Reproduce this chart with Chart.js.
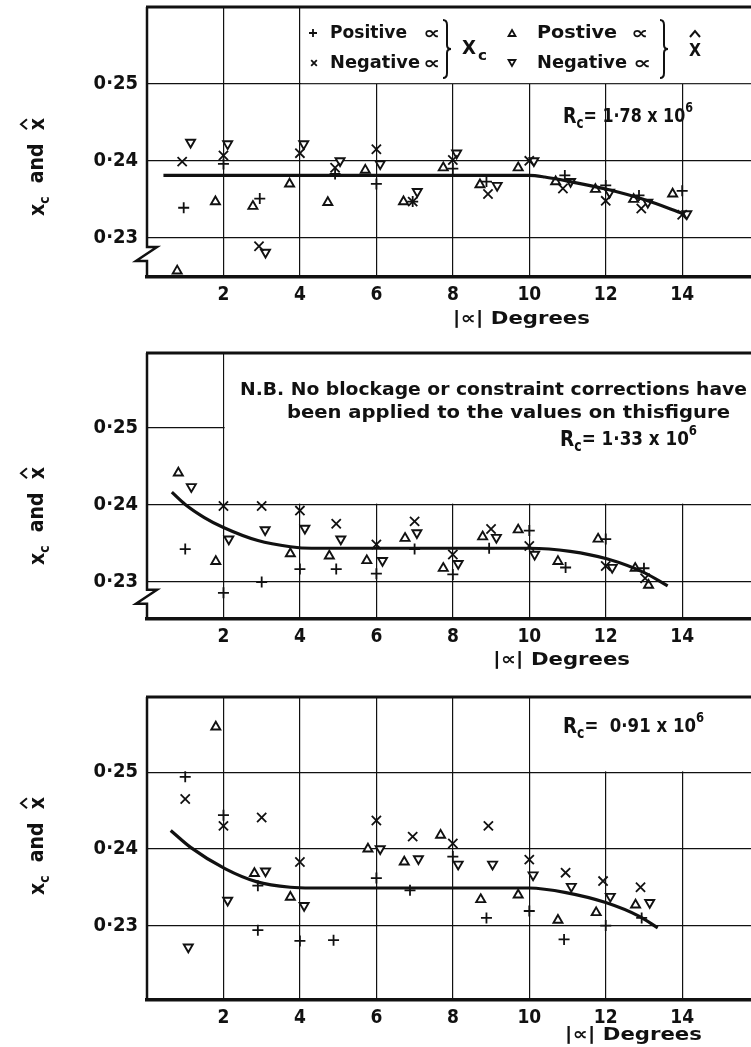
<!DOCTYPE html>
<html>
<head>
<meta charset="utf-8">
<script src="https://cdn.jsdelivr.net/npm/chart.js@4.4.1/dist/chart.umd.min.js"></script>
<style>
  html, body { margin: 0; padding: 0; background: #fff; }
  #wrap { position: relative; width: 751px; height: 1047px; overflow: hidden; background: #fff; }
  canvas { position: absolute; left: 0; }
</style>
</head>
<body>
<div id="wrap">
  <canvas id="c1" width="751" height="335" style="top:0px"></canvas>
  <canvas id="c2" width="751" height="345" style="top:335px"></canvas>
  <canvas id="c3" width="751" height="367" style="top:680px"></canvas>
</div>
<script>
const FONT = "'DejaVu Sans Condensed', 'Liberation Sans Narrow', sans-serif";
const INK = '#111';

const xTicks = [2, 4, 6, 8, 10, 12, 14];
const yTicks = [0.23, 0.24, 0.25];

// Rc = 1.78 x 10^6
const r178Pos = [[0.96,0.2339],[2.0,0.2396],[2.95,0.2351],[4.92,0.2383],[6.0,0.2370],[6.95,0.2347],[8.0,0.2390],[8.88,0.2373],[10.93,0.2381],[12.0,0.2368],[12.87,0.2355],[14.0,0.2361]];
const r178Neg = [[0.92,0.2399],[2.0,0.2407],[2.93,0.2289],[4.0,0.2410],[4.92,0.2391],[6.0,0.2415],[6.95,0.2347],[8.0,0.2401],[8.92,0.2357],[10.0,0.2400],[10.88,0.2364],[12.0,0.2348],[12.93,0.2338],[14.0,0.2330]];
const r178HatPos = [[0.79,0.2257],[1.79,0.2347],[2.77,0.2341],[3.73,0.2370],[4.73,0.2346],[5.71,0.2388],[6.71,0.2347],[7.75,0.2391],[8.71,0.2369],[9.71,0.2391],[10.69,0.2373],[11.73,0.2363],[12.73,0.2350],[13.75,0.2357]];
const r178HatNeg = [[1.14,0.2424],[2.11,0.2422],[3.1,0.2281],[4.1,0.2422],[5.05,0.2400],[6.1,0.2396],[7.07,0.2360],[8.1,0.2410],[9.16,0.2368],[10.12,0.2400],[11.08,0.2373],[12.1,0.2359],[13.1,0.2346],[14.12,0.2331]];
const r178Fair = [[0.43,0.2381],[5,0.2381],[10.0,0.2381],[10.4,0.2379],[11.07,0.2373],[12.03,0.2363],[12.98,0.2350],[14.05,0.2331]];

// Rc = 1.33 x 10^6
const r133Pos = [[1.0,0.2342],[2.0,0.2285],[3.0,0.2299],[4.0,0.2316],[4.95,0.2316],[6.0,0.2310],[7.0,0.2342],[8.0,0.2309],[8.95,0.2343],[10.0,0.2366],[10.95,0.2318],[12.0,0.2355],[13.0,0.2317]];
const r133Neg = [[2.0,0.2398],[3.0,0.2398],[4.0,0.2392],[4.95,0.2375],[6.0,0.2348],[7.0,0.2378],[8.0,0.2335],[9.0,0.2368],[10.0,0.2346],[12.0,0.2320],[13.03,0.2304]];
const r133HatPos = [[0.82,0.2441],[1.8,0.2326],[3.75,0.2336],[4.77,0.2333],[5.75,0.2327],[6.75,0.2356],[7.75,0.2317],[8.78,0.2358],[9.71,0.2367],[10.75,0.2326],[11.8,0.2355],[12.77,0.2317],[13.12,0.2295]];
const r133HatNeg = [[1.16,0.2423],[2.14,0.2355],[3.09,0.2367],[4.13,0.2369],[5.07,0.2355],[6.16,0.2327],[7.06,0.2363],[8.14,0.2323],[9.14,0.2357],[10.14,0.2335],[12.17,0.2318]];
const r133Fair = [[0.65,0.2416],[1.0,0.2400],[1.5,0.2383],[2.0,0.2370],[2.9,0.2353],[3.75,0.2345],[4.3,0.2343],[10.0,0.2343],[11.07,0.2339],[12.05,0.2329],[13.02,0.2311],[13.62,0.2294]];

// Rc = 0.91 x 10^6
const r091Pos = [[1.0,0.2494],[2.0,0.2444],[2.9,0.2352],[2.9,0.2294],[4.0,0.2280],[4.88,0.2281],[6.0,0.2362],[6.88,0.2346],[8.0,0.2390],[8.88,0.2310],[10.0,0.2319],[10.91,0.2282],[12.0,0.2300],[12.94,0.2310]];
const r091Neg = [[1.0,0.2465],[2.0,0.2430],[3.0,0.2441],[4.0,0.2383],[6.0,0.2437],[6.95,0.2416],[8.0,0.2407],[8.93,0.2430],[10.0,0.2386],[10.95,0.2369],[11.93,0.2358],[12.91,0.2350]];
const r091HatPos = [[1.8,0.2559],[2.81,0.2368],[3.75,0.2337],[5.78,0.2400],[6.73,0.2383],[7.68,0.2418],[8.73,0.2334],[9.71,0.2340],[10.75,0.2307],[11.75,0.2317],[12.78,0.2327]];
const r091HatNeg = [[1.08,0.2272],[2.11,0.2333],[3.10,0.2371],[4.11,0.2326],[6.1,0.2400],[7.1,0.2387],[8.14,0.2380],[9.04,0.2380],[10.1,0.2366],[11.1,0.2351],[12.12,0.2338],[13.15,0.2330]];
const r091Fair = [[0.62,0.2424],[1.14,0.2402],[2.05,0.2374],[2.88,0.2357],[3.75,0.2350],[4.3,0.2349],[10.0,0.2349],[10.96,0.2343],[12.0,0.2330],[12.88,0.2312],[13.36,0.2297]];

const toPts = a => a.map(([x, y]) => ({ x, y }));

// text squeezed/stretched horizontally to a given width
function fitText(ctx, str, x, y, w, size, weight) {
  ctx.save();
  ctx.font = `${weight || 'bold'} ${size}px ${FONT}`;
  ctx.textBaseline = 'middle';
  ctx.textAlign = 'left';
  ctx.fillStyle = INK;
  const m = ctx.measureText(str).width;
  ctx.translate(x, y);
  if (w) ctx.scale(w / m, 1);
  ctx.fillText(str, 0, 0);
  ctx.restore();
}

// runs of text with their own size and vertical shift
function richText(ctx, parts, x, y, w) {
  ctx.save();
  ctx.textBaseline = 'middle';
  ctx.fillStyle = INK;
  let total = 0;
  parts.forEach(p => { ctx.font = `bold ${p.s}px ${FONT}`; p.w = ctx.measureText(p.t).width; total += p.w; });
  ctx.translate(x, y);
  if (w) ctx.scale(w / total, 1);
  let cx = 0;
  parts.forEach(p => { ctx.font = `bold ${p.s}px ${FONT}`; ctx.fillText(p.t, cx, p.dy || 0); cx += p.w; });
  ctx.restore();
}

function rcLabel(ctx, mant, x, y, w) {
  richText(ctx, [
    { t: 'R', s: 22 }, { t: 'c', s: 15, dy: 7 }, { t: '= ' + mant + ' x 10', s: 20 }, { t: '6', s: 14, dy: -9 }
  ], x, y, w);
}

function brace(ctx, x, y1, y2) {
  const m = (y1 + y2) / 2;
  ctx.save();
  ctx.strokeStyle = INK; ctx.lineWidth = 2;
  ctx.beginPath();
  ctx.moveTo(x - 4, y1);
  ctx.quadraticCurveTo(x, y1, x, y1 + 5);
  ctx.lineTo(x, m - 4);
  ctx.quadraticCurveTo(x, m, x + 4, m);
  ctx.quadraticCurveTo(x, m, x, m + 4);
  ctx.lineTo(x, y2 - 5);
  ctx.quadraticCurveTo(x, y2, x - 4, y2);
  ctx.stroke();
  ctx.restore();
}

function hat(ctx, cx, cy, w) {
  ctx.save();
  ctx.strokeStyle = INK; ctx.lineWidth = 2;
  ctx.beginPath();
  ctx.moveTo(cx - w, cy + 3);
  ctx.lineTo(cx, cy - 3);
  ctx.lineTo(cx + w, cy + 3);
  ctx.stroke();
  ctx.restore();
}

function symbol(ctx, style, rot, x, y) {
  ctx.save();
  ctx.strokeStyle = INK; ctx.fillStyle = '#fff';
  Chart.helpers.drawPoint(ctx, { pointStyle: style, rotation: rot, radius: 4, borderWidth: 1.6 }, x, y);
  ctx.restore();
}

// rotated "Xc and X^" axis title
function yTitle(ctx, x, cy) {
  ctx.save();
  ctx.translate(x, cy);
  ctx.rotate(-Math.PI / 2);
  ctx.fillStyle = INK;
  ctx.textBaseline = 'middle';
  ctx.font = `bold 21px ${FONT}`;
  const wx = ctx.measureText('x').width;
  const wa = ctx.measureText('  and  ').width;
  ctx.font = `bold 14px ${FONT}`;
  const wc = ctx.measureText('c').width;
  const total = wx + wc + wa + wx;
  let cx = -total / 2;
  ctx.font = `bold 21px ${FONT}`;
  ctx.fillText('x', cx, 0); cx += wx;
  ctx.font = `bold 14px ${FONT}`;
  ctx.fillText('c', cx, 6); cx += wc;
  ctx.font = `bold 21px ${FONT}`;
  ctx.fillText('  and  ', cx, -1); cx += wa;
  ctx.fillText('x', cx, 0);
  hat(ctx, cx + wx / 2, -15, 5);
  ctx.restore();
}

function drawLegend(ctx) {
  symbol(ctx, 'cross', 0, 313, 33);
  fitText(ctx, 'Positive', 330, 33, 77, 18);
  fitText(ctx, '\u221D', 423, 34, 17, 18);
  symbol(ctx, 'crossRot', 0, 314, 63);
  fitText(ctx, 'Negative', 330, 63, 90, 18);
  fitText(ctx, '\u221D', 423, 64, 17, 18);
  brace(ctx, 447, 20, 78);
  fitText(ctx, 'X', 462, 49, 14, 19);
  fitText(ctx, 'c', 478, 56, 9, 14);
  symbol(ctx, 'triangle', 0, 512, 34);
  fitText(ctx, 'Postive', 537, 33, 80, 18);
  fitText(ctx, '\u221D', 631, 34, 17, 18);
  symbol(ctx, 'triangle', 180, 512, 62);
  fitText(ctx, 'Negative', 537, 63, 90, 18);
  fitText(ctx, '\u221D', 633, 64, 18, 18);
  brace(ctx, 664, 20, 78);
  fitText(ctx, 'X', 689, 52, 12, 17);
  hat(ctx, 695, 34, 5);
}

function makePanel(cfg) {
  const deco = {
    id: 'deco' + cfg.id,
    beforeDatasetsDraw(chart) {
      const { ctx, chartArea: ca, scales: { x: xa, y: ya } } = chart;
      ctx.save();
      if (cfg.box) {
        const bx = xa.getPixelForValue(cfg.box[0]);
        const by = ya.getPixelForValue(cfg.box[1]);
        ctx.fillStyle = '#fff';
        ctx.fillRect(bx + 1.2, ca.top, ca.right - bx, by - 0.8 - ca.top);
      }
      ctx.strokeStyle = INK;
      ctx.lineWidth = 3;
      ctx.beginPath();
      ctx.moveTo(ca.left - 1, ca.top);
      ctx.lineTo(ca.right, ca.top);
      ctx.stroke();
      ctx.lineWidth = 2.5;
      ctx.beginPath();
      const L = ca.left;
      ctx.moveTo(L, ca.top);
      if (cfg.brk) {
        const y0 = ya.getPixelForValue(cfg.brk);
        ctx.lineTo(L, y0);
        ctx.lineTo(L + 10, y0);
        ctx.lineTo(L - 11, y0 + 14);
        ctx.lineTo(L, y0 + 14);
      }
      ctx.lineTo(L, ca.bottom);
      ctx.stroke();
      ctx.restore();
    },
    afterDraw(chart) {
      const { ctx, chartArea: ca, scales: { x: xa } } = chart;
      yTitle(ctx, 39, cfg.yTitleY);
      fitText(ctx, '|\u221D| Degrees', xa.getPixelForValue(cfg.xTitle[0]), cfg.xTitle[1], 137, 18);
      rcLabel(ctx, cfg.rc, cfg.rcAt[0], cfg.rcAt[1], cfg.rcAt[2]);
      if (cfg.legend) drawLegend(ctx);
      if (cfg.note) {
        fitText(ctx, 'N.B. No blockage or constraint corrections have', 240, 55, 507, 18);
        fitText(ctx, 'been applied to the values on thisfigure', 287, 78, 443, 18);
      }
    }
  };

  const marks = (data, style, rot, r) => ({
    data: toPts(data), showLine: false, pointStyle: style, rotation: rot,
    pointRadius: r, borderColor: INK, backgroundColor: '#fff', borderWidth: style === 'triangle' ? 1.9 : 1.8,
    clip: false
  });

  return new Chart(document.getElementById(cfg.id), {
    type: 'scatter',
    data: {
      datasets: [
        { data: toPts(cfg.fair), showLine: true, pointRadius: 0, borderColor: INK, borderWidth: 3.2,
          cubicInterpolationMode: 'monotone', clip: false },
        marks(cfg.pos, 'cross', 0, 5.5),
        marks(cfg.neg, 'crossRot', 0, 6.5),
        marks(cfg.hatPos, 'triangle', 0, 5.2),
        marks(cfg.hatNeg, 'triangle', 180, 5.2)
      ]
    },
    options: {
      responsive: false,
      animation: false,
      events: [],
      layout: { autoPadding: false, padding: { top: cfg.padTop, left: 0, right: 0, bottom: 0 } },
      plugins: { legend: { display: false }, tooltip: { enabled: false } },
      scales: {
        x: {
          type: 'linear', min: 0, max: 15.8,
          afterBuildTicks: s => { s.ticks = xTicks.map(v => ({ value: v })); },
          afterFit: s => { s.height = cfg.axisH; s.paddingLeft = 0; s.paddingRight = 0; },
          grid: { color: INK, lineWidth: 1.2, drawTicks: false },
          border: { display: true, color: INK, width: 3.5 },
          ticks: { padding: 7, autoSkip: false, maxRotation: 0, color: INK,
                   font: { family: FONT, size: 19, weight: 'bold' } }
        },
        y: {
          type: 'linear', min: cfg.yMin, max: cfg.yMax,
          afterBuildTicks: s => { s.ticks = yTicks.map(v => ({ value: v })); },
          afterFit: s => { s.width = 147; s.paddingTop = 0; s.paddingBottom = 0; },
          grid: { color: INK, lineWidth: 1.2, drawTicks: false },
          border: { display: false },
          ticks: { padding: 9, color: INK, font: { family: FONT, size: 20, weight: 'bold' },
                   callback: v => v.toFixed(2).replace('.', '\u00B7') }
        }
      }
    },
    plugins: [deco]
  });
}

makePanel({ id: 'c1', padTop: 7, axisH: 58, yMin: 0.2249, yMax: 0.26, box: [4, 0.25], brk: 0.2288,
  pos: r178Pos, neg: r178Neg, hatPos: r178HatPos, hatNeg: r178HatNeg, fair: r178Fair,
  rc: '1\u00B778', rcAt: [563, 117, 130], legend: true, yTitleY: 167, xTitle: [8.0, 319] });

makePanel({ id: 'c2', padTop: 18, axisH: 61, yMin: 0.2251, yMax: 0.2597, box: [2, 0.24], brk: 0.2289,
  pos: r133Pos, neg: r133Neg, hatPos: r133HatPos, hatNeg: r133HatNeg, fair: r133Fair,
  rc: '1\u00B733', rcAt: [560, 105, 137], note: true, yTitleY: 181, xTitle: [9.05, 325] });

makePanel({ id: 'c3', padTop: 17, axisH: 47, yMin: 0.2203, yMax: 0.2598, box: [10, 0.25], brk: null,
  pos: r091Pos, neg: r091Neg, hatPos: r091HatPos, hatNeg: r091HatNeg, fair: r091Fair,
  rc: ' 0\u00B791', rcAt: [563, 47, 141], yTitleY: 166, xTitle: [10.93, 355] });
</script>
</body>
</html>
